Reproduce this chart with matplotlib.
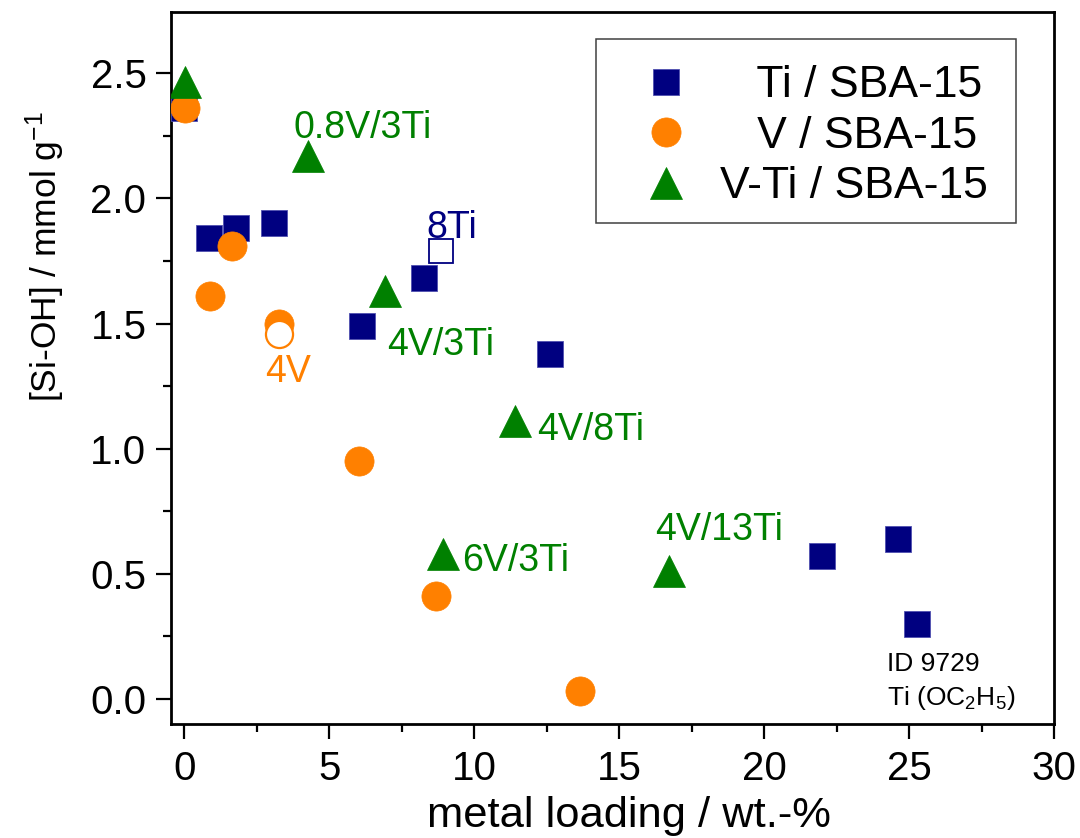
import matplotlib
matplotlib.use("Agg")
import matplotlib.pyplot as plt
from matplotlib.ticker import MultipleLocator
from matplotlib.patches import Rectangle

plt.rcParams['font.family'] = ['Liberation Sans', 'DejaVu Sans']
plt.rcParams['mathtext.fontset'] = 'custom'
plt.rcParams['mathtext.rm'] = 'Liberation Sans'
plt.rcParams['mathtext.it'] = 'Liberation Sans:italic'
plt.rcParams['mathtext.bf'] = 'Liberation Sans:bold'

# ---- data ----
ti_x = [0.0, 0.84, 1.77, 3.09, 6.14, 8.28, 12.62, 21.99, 24.61, 25.26]
ti_y = [2.36, 1.84, 1.88, 1.90, 1.49, 1.68, 1.38, 0.57, 0.64, 0.30]
ti_open_x = [8.85]
ti_open_y = [1.79]

v_x = [0.01, 1.65, 0.90, 3.26, 6.02, 8.68, 13.64]
v_y = [2.36, 1.81, 1.61, 1.50, 0.95, 0.41, 0.03]
v_open_x = [3.26]
v_open_y = [1.46]

vti_x = [0.01, 4.28, 6.92, 11.40, 8.91, 16.72]
vti_y = [2.465, 2.17, 1.63, 1.11, 0.58, 0.51]

labels_text = ["0.8V/3Ti", "8Ti", "4V/3Ti", "4V", "4V/8Ti", "6V/3Ti", "4V/13Ti"]
labels_x = [3.75, 8.36, 7.0, 2.78, 12.17, 9.57, 16.23]
labels_y = [2.24, 1.84, 1.374, 1.268, 1.035, 0.513, 0.635]
labels_color = ["#008000", "#000080", "#008000", "#FF8000", "#008000", "#008000", "#008000"]

note_text = ["ID 9729", "Ti (OC$_2$H$_5$)"]
note_x = [24.22, 24.22]
note_y = [0.113, -0.024]

xticks = [0, 5, 10, 15, 20, 25, 30]
yticks = [0.0, 0.5, 1.0, 1.5, 2.0, 2.5]

NAVY = "#000080"
ORANGE = "#FF8000"
GREEN = "#008000"

fig = plt.figure(figsize=(10.8, 8.38), dpi=100)
ax = fig.add_axes([170.7 / 1080, 1 - 724 / 838, (1054.3 - 170.7) / 1080, (724 - 11.7) / 838])

sq_ms = 18.5
ax.plot(ti_x, ti_y, ls='none', marker='s', ms=sq_ms, mfc=NAVY, mec='#5050b0', mew=0.6,
        label='   Ti / SBA-15', zorder=3)
ax.plot(ti_open_x, ti_open_y, ls='none', marker='s', ms=sq_ms - 1, mfc='white', mec=NAVY,
        mew=1.3, zorder=3)
ax.plot(v_x, v_y, ls='none', marker='o', ms=21, mfc=ORANGE, mec=ORANGE, mew=0.5,
        label='   V / SBA-15', zorder=4)
ax.plot(v_open_x, v_open_y, ls='none', marker='o', ms=19.5, mfc='white', mec=ORANGE,
        mew=1.6, zorder=4)
ax.plot(vti_x, vti_y, ls='none', marker='^', ms=23, mfc=GREEN, mec=GREEN, mew=0.5,
        label='V-Ti / SBA-15', zorder=5)

for t, x, y, c in zip(labels_text, labels_x, labels_y, labels_color):
    ax.text(x, y, t, color=c, fontsize=27, ha='left', va='baseline', zorder=6)
for t, x, y in zip(note_text, note_x, note_y):
    ax.text(x, y, t, color='black', fontsize=19, ha='left', va='baseline', zorder=6)

ax.set_xlim(-0.47, 30)
ax.set_ylim(-0.1, 2.746)
ax.set_xticks(xticks)
ax.set_yticks(yticks)
ax.set_xticklabels([str(v) for v in xticks])
ax.set_yticklabels([f"{v:.1f}" for v in yticks])
ax.xaxis.set_minor_locator(MultipleLocator(2.5))
ax.yaxis.set_minor_locator(MultipleLocator(0.25))
ax.tick_params(which='major', direction='out', length=10.5, width=1.6, labelsize=29, pad=8)
ax.tick_params(which='minor', direction='out', length=5.5, width=1.6)
ax.tick_params(axis='y', which='major', pad=7)
ax.tick_params(top=False, right=False, which='both')
for s in ax.spines.values():
    s.set_linewidth(2.0)

ax.set_xlabel('metal loading / wt.-%', fontsize=31.3, va='baseline')
ax.xaxis.set_label_coords(0.519, -0.1446)
ax.set_ylabel('[Si-OH] / mmol g$^{-1}$', fontsize=25.5, va='center')
ax.yaxis.set_label_coords(-0.142, 0.656)

# legend content (frame drawn separately to match the reference box)
ax_w = 1054.3 - 170.7
ax_h = 724 - 11.7
leg = ax.legend(loc='upper left', bbox_to_anchor=((596 - 170.7) / ax_w, (724 - 41) / ax_h),
                borderaxespad=0, fontsize=32, frameon=False, borderpad=0.55,
                handlelength=2.05, handletextpad=0.19, labelspacing=0.21,
                markerscale=1.0, numpoints=1)
ax.add_patch(Rectangle(((596 - 170.7) / ax_w, (724 - 223) / ax_h),
                       (1016 - 596) / ax_w, (223 - 39) / ax_h,
                       transform=ax.transAxes, fill=False, ec='#404040', lw=1.1,
                       zorder=7, clip_on=False))

fig.savefig('out.png', dpi=100)
